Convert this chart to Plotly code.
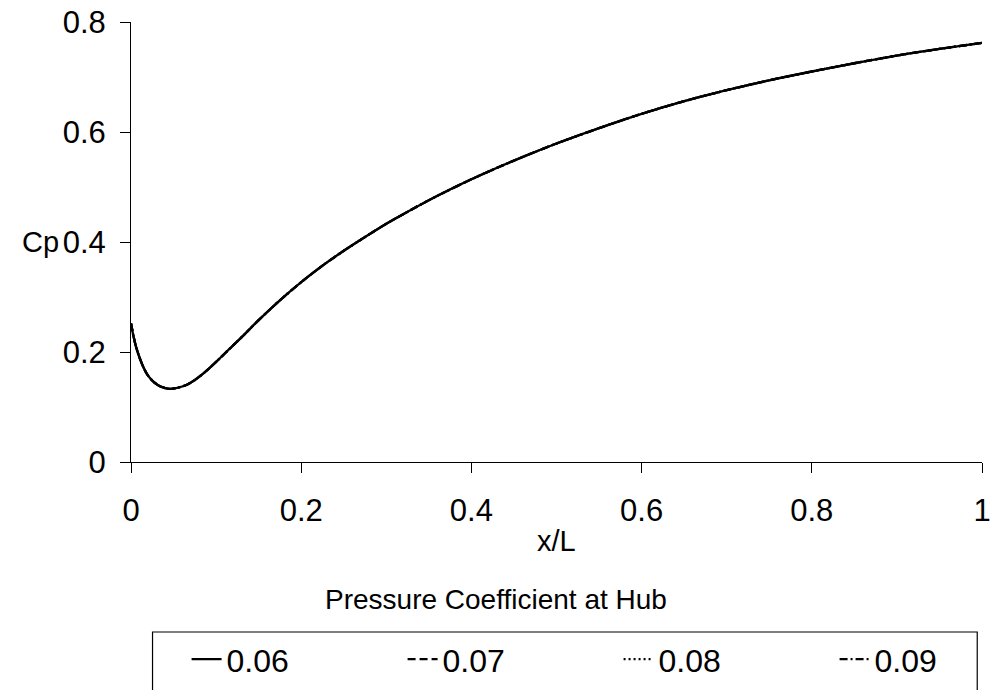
import plotly.graph_objects as go

# Chordwise position along the hub, x/L
x_over_L = [0, 0.003, 0.006, 0.01, 0.015, 0.02, 0.027, 0.035, 0.045, 0.055,
            0.065, 0.075, 0.088, 0.102, 0.116, 0.134, 0.15, 0.175, 0.2, 0.225,
            0.25, 0.275, 0.3, 0.35, 0.4, 0.45, 0.5, 0.55, 0.6, 0.65,
            0.7, 0.75, 0.8, 0.85, 0.9, 0.95, 1.0]

# Pressure coefficient at the hub for each case
cp_006 = [0.252, 0.228, 0.209, 0.190, 0.171, 0.157, 0.145, 0.137, 0.133, 0.135,
          0.140, 0.149, 0.165, 0.185, 0.206, 0.233, 0.258, 0.294, 0.327, 0.357,
          0.384, 0.409, 0.433, 0.476, 0.514, 0.548, 0.579, 0.607, 0.633, 0.656,
          0.676, 0.694, 0.710, 0.725, 0.739, 0.751, 0.762]
cp_007 = [0.252, 0.228, 0.209, 0.190, 0.171, 0.157, 0.145, 0.137, 0.133, 0.135,
          0.140, 0.149, 0.165, 0.185, 0.206, 0.233, 0.258, 0.294, 0.327, 0.357,
          0.384, 0.409, 0.433, 0.476, 0.514, 0.548, 0.579, 0.607, 0.633, 0.656,
          0.676, 0.694, 0.710, 0.725, 0.739, 0.751, 0.762]
cp_008 = [0.252, 0.228, 0.209, 0.190, 0.171, 0.157, 0.145, 0.137, 0.133, 0.135,
          0.140, 0.149, 0.165, 0.185, 0.206, 0.233, 0.258, 0.294, 0.327, 0.357,
          0.384, 0.409, 0.433, 0.476, 0.514, 0.548, 0.579, 0.607, 0.633, 0.656,
          0.676, 0.694, 0.710, 0.725, 0.739, 0.751, 0.762]
cp_009 = [0.252, 0.228, 0.209, 0.190, 0.171, 0.157, 0.145, 0.137, 0.133, 0.135,
          0.140, 0.149, 0.165, 0.185, 0.206, 0.233, 0.258, 0.294, 0.327, 0.357,
          0.384, 0.409, 0.433, 0.476, 0.514, 0.548, 0.579, 0.607, 0.633, 0.656,
          0.676, 0.694, 0.710, 0.725, 0.739, 0.751, 0.762]

series_names = ["0.06", "0.07", "0.08", "0.09"]
series_values = [cp_006, cp_007, cp_008, cp_009]
series_dash = ["solid", "8px,4px", "2px,3px", "8px,3px,2px,3px"]

x_ticks = [0, 0.2, 0.4, 0.6, 0.8, 1]
x_tick_labels = ["0", "0.2", "0.4", "0.6", "0.8", "1"]
y_ticks = [0, 0.2, 0.4, 0.6, 0.8]
y_tick_labels = ["0", "0.2", "0.4", "0.6", "0.8"]

FONT = "Liberation Sans, Arial, sans-serif"
NARROW = "Liberation Sans Narrow, Arial Narrow, Liberation Sans, sans-serif"

fig = go.Figure()
for name, vals, dash in zip(series_names, series_values, series_dash):
    fig.add_trace(go.Scatter(
        x=x_over_L, y=vals, name=name, mode="lines",
        line=dict(color="black", width=2.3, dash=dash, shape="spline", smoothing=0.8),
    ))

# Frame around the legend entries (open at the bottom edge of the page)
fig.add_shape(type="rect", xref="paper", yref="paper",
              x0=0.0253, x1=0.9944, y0=-0.3864, y1=-0.56,
              line=dict(color="black", width=1.2), fillcolor="rgba(0,0,0,0)",
              layer="above")

fig.update_layout(
    width=993, height=690,
    paper_bgcolor="white", plot_bgcolor="white",
    margin=dict(l=131, r=11, t=22, b=228, autoexpand=False),
    font=dict(family=FONT, size=30, color="black"),
    showlegend=True,
    legend=dict(
        orientation="h",
        x=-0.0005, xanchor="left",
        y=-0.386, yanchor="top",
        borderwidth=0,
        font=dict(family=NARROW, size=32, color="black"),
        indentation=56,
        entrywidth=115, entrywidthmode="pixels",
        itemwidth=30,
        bgcolor="rgba(0,0,0,0)",
    ),
    xaxis=dict(
        range=[0, 1], tickvals=x_ticks, ticktext=x_tick_labels,
        ticks="outside", ticklen=10, tickcolor="black", tickwidth=1,
        showline=True, linecolor="black", linewidth=1,
        showgrid=False, zeroline=False,
        tickfont=dict(family=FONT, size=31),
        ticklabelstandoff=11,
    ),
    yaxis=dict(
        range=[0, 0.8], tickvals=y_ticks, ticktext=y_tick_labels,
        ticks="outside", ticklen=10, tickcolor="black", tickwidth=1,
        showline=True, linecolor="black", linewidth=1,
        showgrid=False, zeroline=False,
        tickfont=dict(family=FONT, size=31),
        ticklabelstandoff=8,
    ),
    annotations=[
        dict(text="Cp", xref="paper", yref="paper", x=-0.1065, y=0.5,
             xanchor="center", yanchor="middle", showarrow=False,
             font=dict(family=FONT, size=29)),
        dict(text="x/L", xref="paper", yref="paper", x=0.5, y=-0.18,
             xanchor="center", yanchor="middle", showarrow=False,
             font=dict(family=FONT, size=29)),
        dict(text="Pressure Coefficient at Hub", xref="paper", yref="paper",
             x=0.4287, y=-0.3136, xanchor="center", yanchor="middle",
             showarrow=False, font=dict(family=FONT, size=28)),
    ],
)

fig.write_html("out.html")
